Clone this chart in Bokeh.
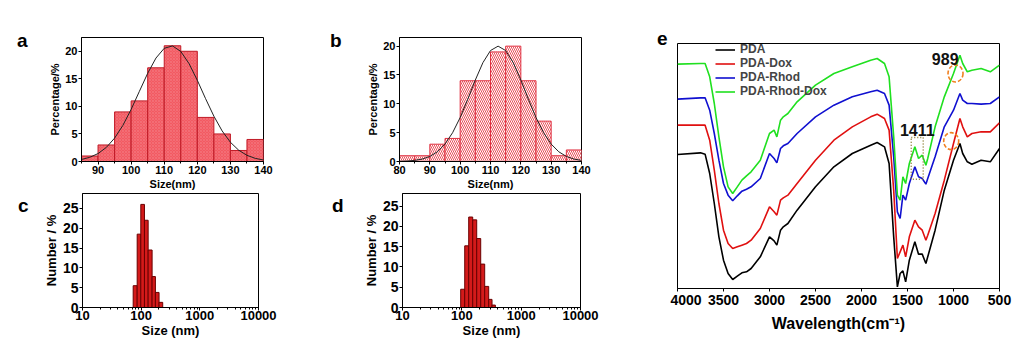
from bokeh.plotting import figure
from bokeh.layouts import row, column
from bokeh.models import (Range1d, FixedTicker, Label, Legend, LegendItem, LogTicker,
                          NumeralTickFormatter, Div)
from bokeh.embed import file_html
from bokeh.resources import INLINE

FONT = "Liberation Sans"

# ---------------- data ----------------
# panel a: TEM size histogram (bin left edges, width 5 nm)
a_left = [85, 90, 95, 100, 105, 110, 115, 120, 125, 130, 135]
a_pct = [1, 3, 9, 11, 17, 21, 20, 8, 5, 2, 4]
a_fit_x = [85, 87.5, 90, 92.5, 95, 97.5, 100, 102.5, 105, 107.5, 110, 112.5, 115,
           117.5, 120, 122.5, 125, 127.5, 130, 132.5, 135, 137.5, 140]
a_fit_y = [0.37, 0.76, 1.44, 2.55, 4.24, 6.55, 9.45, 12.74, 16.0, 18.77, 20.54, 20.97, 19.97,
           17.76, 14.73, 11.40, 8.23, 5.55, 3.49, 2.05, 1.12, 0.57, 0.27]

# panel b
b_left = [80, 85, 90, 95, 100, 105, 110, 115, 120, 125, 130, 135]
b_pct = [1, 1, 3, 4, 14, 14, 19, 20, 14, 7, 1, 2]
b_fit_x = [80, 82.5, 85, 87.5, 90, 92.5, 95, 97.5, 100, 102.5, 105, 107.5, 110, 112.5,
           115, 117.5, 120, 122.5, 125, 127.5, 130, 132.5, 135, 137.5, 140]
b_fit_y = [0.03, 0.08, 0.19, 0.42, 0.88, 1.69, 3.02, 4.99, 7.62, 10.79, 14.13, 17.14, 19.24, 20.0,
           19.24, 17.14, 14.13, 10.79, 7.62, 4.99, 3.02, 1.69, 0.88, 0.42, 0.19]

# panel c: DLS number distribution (log-spaced bin edges)
c_edges = [73.1, 85.5, 98.6, 113.8, 131.5, 153.6, 174.9, 201.8, 232.9]
c_num = [5.5, 18.5, 26.0, 22.0, 14.5, 7.8, 3.8, 1.3]

# panel d
d_edges = [95.7, 111.9, 130.6, 152.5, 178.1, 208.0, 242.9, 283.6, 322.8, 367.4]
d_num = [4.5, 15.2, 22.3, 21.6, 17.0, 10.7, 5.2, 2.0, 0.6]

# panel e: FTIR spectra (offset, arbitrary units)
wn = [4000, 3750, 3700, 3650, 3600, 3550, 3500, 3450, 3400, 3350, 3300, 3250, 3200, 3100,
      3000, 2950, 2920, 2880, 2850, 2800, 2700, 2500, 2300, 2100, 1900, 1830, 1750, 1700,
      1650, 1610, 1580, 1550, 1520, 1480, 1420, 1380, 1340, 1300, 1280, 1200, 1100, 1000,
      930, 900, 850, 800, 700, 600, 500]
pda = [40.2, 40.7, 40.3, 34.5, 25.5, 15.5, 8.5, 4.5, 2.7, 3.7, 4.7, 5.0, 6.0, 9.5,
       15.5, 14.3, 13.0, 17.5, 18.5, 19.5, 23.5, 30.5, 36.5, 40.5, 43.0, 43.8, 42.5, 37.5,
       15.5, 0.5, 4.5, 5.3, 2.0, 8.5, 14.0, 10.3, 10.3, 7.5, 9.5, 17.5, 29.5, 38.5,
       43.5, 40.5, 38.0, 37.3, 38.5, 38.0, 42.0]
pda_dox = [49.0, 49.0, 49.0, 44.5, 35.5, 25.5, 17.5, 13.5, 12.0, 12.5, 13.0, 13.5, 14.5, 18.0,
           24.5, 23.0, 22.0, 26.5, 27.2, 28.0, 31.5, 38.5, 44.5, 48.5, 51.5, 52.3, 51.0, 47.5,
           29.5, 9.0, 11.0, 13.0, 9.5, 15.5, 20.5, 18.5, 17.5, 14.5, 16.0, 22.5, 32.5, 43.5,
           51.0, 48.5, 45.5, 46.5, 47.0, 47.0, 49.7]
pda_rhod = [56.8, 57.2, 57.2, 53.5, 46.5, 38.5, 31.5, 28.0, 26.3, 27.8, 29.2, 29.8, 30.5, 33.0,
            40.5, 39.0, 37.7, 42.0, 42.8, 43.5, 46.5, 51.5, 55.0, 57.5, 59.0, 59.5, 58.5, 55.0,
            39.5, 23.0, 21.0, 28.0, 26.5, 31.5, 36.5, 33.5, 33.0, 31.3, 33.0, 39.5, 48.5, 53.5,
            58.5, 56.5, 55.5, 55.5, 55.3, 55.5, 57.5]
pda_rhod_dox = [67.3, 67.5, 67.5, 63.5, 55.5, 45.5, 36.5, 30.5, 28.5, 30.5, 32.5, 33.8, 35.0, 38.5,
                46.5, 47.5, 45.5, 50.5, 51.5, 52.5, 56.0, 61.0, 64.5, 66.5, 68.5, 69.0, 67.5, 63.5,
                45.5, 28.0, 26.5, 33.5, 31.5, 37.5, 42.5, 39.0, 40.0, 37.0, 39.0, 48.5, 57.5, 64.5,
                70.0, 67.5, 65.0, 65.5, 66.0, 65.0, 67.0]
series_names = ["PDA", "PDA-Dox", "PDA-Rhod", "PDA-Rhod-Dox"]
series_colors = ["#000000", "#e01010", "#1010d0", "#20e020"]

# annotations on panel e
peak_labels = ["989", "1411"]
peak_label_x = [1090, 1394]
peak_label_y = [69.0, 47.5]
circle_x = [978, 1025]
circle_y = [64.5, 44.2]
box_wn = [1459, 1329]
box_val = [32.8, 45.3]

panel_letters = ["a", "b", "c", "d", "e"]


def style(p, tick_size="11px", label_size="11px"):
    p.outline_line_color = "black"
    p.outline_line_width = 1
    p.grid.visible = False
    p.background_fill_color = "white"
    p.border_fill_color = "white"
    for ax in [p.xaxis[0], p.yaxis[0]]:
        ax.major_label_text_font = FONT
        ax.major_label_text_font_style = "bold"
        ax.major_label_text_font_size = tick_size
        ax.major_label_text_color = "black"
        ax.axis_label_text_font = FONT
        ax.axis_label_text_font_style = "bold"
        ax.axis_label_text_font_size = label_size
        ax.axis_label_text_color = "black"
        ax.major_tick_in = 0
        ax.major_tick_out = 3
        ax.minor_tick_in = 0
        ax.minor_tick_out = 2
        ax.major_label_standoff = 1
        ax.axis_label_standoff = 1
        ax.axis_line_color = "black"


def letter_div(txt, w, h, left, top):
    html = ('<div style="padding-left:%dpx; padding-top:%dpx; font-family:\'%s\'; '
            'font-weight:bold; font-size:19px; line-height:19px; color:black;">%s</div>'
            % (left, top, FONT, txt))
    return Div(text=html, width=w, height=h, margin=(0, 0, 0, 0))


# ---------------- panel a ----------------
pa = figure(width=280, height=192, output_backend="svg", toolbar_location=None,
            x_range=Range1d(85, 140), y_range=Range1d(0, 22.5),
            min_border_left=41, min_border_right=57, min_border_top=37, min_border_bottom=31)
pa.quad(left=a_left, right=[v + 5 for v in a_left], bottom=0, top=a_pct,
        fill_color="#f25a62", line_color="#c01a26", line_width=1,
        hatch_pattern="x", hatch_color="#f8a0a8", hatch_scale=3, hatch_weight=0.6, hatch_alpha=0.45)
pa.line(a_fit_x, a_fit_y, line_color="#222222", line_width=1)
style(pa)
pa.xaxis.ticker = FixedTicker(ticks=[90, 100, 110, 120, 130, 140], minor_ticks=[85, 95, 105, 115, 125, 135])
pa.yaxis.ticker = FixedTicker(ticks=[0, 5, 10, 15, 20], minor_ticks=[])
pa.xaxis.axis_label = "Size(nm)"
pa.yaxis.axis_label = "Percentage/%"
la = letter_div(panel_letters[0], 40, 192, 17, 31)

# ---------------- panel b ----------------
pb = figure(width=280, height=192, output_backend="svg", toolbar_location=None,
            x_range=Range1d(80, 140), y_range=Range1d(0, 21.5),
            min_border_left=39, min_border_right=59, min_border_top=37, min_border_bottom=31)
pb.quad(left=b_left, right=[v + 5 for v in b_left], bottom=0, top=b_pct,
        fill_color="white", line_color="#e03040", line_width=1,
        hatch_pattern="\\", hatch_color="#e8505a", hatch_scale=4, hatch_weight=1)
pb.line(b_fit_x, b_fit_y, line_color="#222222", line_width=1)
style(pb)
pb.xaxis.ticker = FixedTicker(ticks=[80, 90, 100, 110, 120, 130, 140], minor_ticks=[85, 95, 105, 115, 125, 135])
pb.yaxis.ticker = FixedTicker(ticks=[0, 5, 10, 15, 20], minor_ticks=[])
pb.xaxis.axis_label = "Size(nm)"
pb.yaxis.axis_label = "Percentage/%"
lb = letter_div(panel_letters[1], 40, 192, 10, 31)

# ---------------- panel c ----------------
pc = figure(width=280, height=151, output_backend="svg", toolbar_location=None,
            x_axis_type="log", x_range=Range1d(10, 10000), y_range=Range1d(0, 28.75),
            min_border_left=42, min_border_right=62, min_border_top=1, min_border_bottom=36)
pc.quad(left=c_edges[:-1], right=c_edges[1:], bottom=0, top=c_num,
        fill_color="#d41a1a", line_color="#6a0000", line_width=1)
style(pc, tick_size="13px", label_size="13px")
pc.yaxis.major_label_text_font_size = "14px"
pc.yaxis.ticker = FixedTicker(ticks=[0, 5, 10, 15, 20, 25], minor_ticks=[])
pc.xaxis.ticker = LogTicker(desired_num_ticks=4, num_minor_ticks=10)
pc.xaxis.formatter = NumeralTickFormatter(format="0")
pc.xaxis.major_label_standoff = 0
pc.xaxis.axis_label_standoff = 0
pc.xaxis.axis_label = "Size (nm)"
pc.yaxis.axis_label = "Number / %"
lc = letter_div(panel_letters[2], 40, 151, 18, 4)

# ---------------- panel d ----------------
pd_ = figure(width=280, height=151, output_backend="svg", toolbar_location=None,
             x_axis_type="log", x_range=Range1d(10, 10000), y_range=Range1d(0, 28.1),
             min_border_left=40, min_border_right=60, min_border_top=1, min_border_bottom=36)
pd_.quad(left=d_edges[:-1], right=d_edges[1:], bottom=0, top=d_num,
         fill_color="#d41a1a", line_color="#6a0000", line_width=1)
style(pd_, tick_size="13px", label_size="13px")
pd_.yaxis.major_label_text_font_size = "14px"
pd_.yaxis.ticker = FixedTicker(ticks=[0, 5, 10, 15, 20, 25], minor_ticks=[])
pd_.xaxis.ticker = LogTicker(desired_num_ticks=4, num_minor_ticks=10)
pd_.xaxis.formatter = NumeralTickFormatter(format="0")
pd_.xaxis.major_label_standoff = 0
pd_.xaxis.axis_label_standoff = 0
pd_.xaxis.axis_label = "Size (nm)"
pd_.yaxis.axis_label = "Number / %"
ld = letter_div(panel_letters[3], 40, 151, 12, 4)

# ---------------- panel e ----------------
pe = figure(width=354, height=343, output_backend="svg", toolbar_location=None,
            x_range=Range1d(4000, 500), y_range=Range1d(0, 73.5),
            min_border_left=7, min_border_right=25, min_border_top=43, min_border_bottom=55)
items = []
for name, ys, col in zip(series_names, [pda, pda_dox, pda_rhod, pda_rhod_dox], series_colors):
    r = pe.line(wn, ys, line_color=col, line_width=1.6)
    items.append(LegendItem(label=name, renderers=[r]))
style(pe, tick_size="14px", label_size="16px")
pe.yaxis.visible = False
pe.xaxis.ticker = FixedTicker(ticks=[4000, 3500, 3000, 2500, 2000, 1500, 1000, 500], minor_ticks=[])
pe.xaxis.axis_label = "Wavelength(cm\u207b\u00b9)"
pe.xaxis.major_label_standoff = 3
pe.xaxis.axis_label_standoff = 7

pe.ellipse(x=circle_x, y=circle_y, width=15, height=17, width_units="screen", height_units="screen",
           fill_color=None, line_color="#f08020", line_width=1.6, line_dash="4 2")
pe.quad(left=[box_wn[0]], right=[box_wn[1]], bottom=[box_val[0]], top=[box_val[1]],
        fill_color=None, line_color="#8a7a30", line_width=1.5, line_dash="1 2")
for t, x, y in zip(peak_labels, peak_label_x, peak_label_y):
    pe.add_layout(Label(x=x, y=y, text=t, text_font=FONT, text_font_style="bold",
                        text_font_size="16px", text_align="center", text_baseline="middle",
                        text_color="#111111"))

leg = Legend(items=items, location=(38, 190), orientation="vertical")
leg.background_fill_alpha = 0
leg.border_line_alpha = 0
leg.label_text_font = FONT
leg.label_text_font_style = "bold"
leg.label_text_font_size = "12px"
leg.label_text_line_height = 1.0
leg.glyph_width = 20
leg.glyph_height = 13
leg.label_height = 13
leg.label_standoff = 5
leg.spacing = 0
leg.padding = 0
leg.margin = 0
pe.add_layout(leg)
le = letter_div(panel_letters[4], 30, 343, 17, 29)

layout = row(column(row(la, pa, lb, pb), row(lc, pc, ld, pd_)), le, pe)

html = file_html(layout, INLINE)
open("out.html", "w").write(html)
